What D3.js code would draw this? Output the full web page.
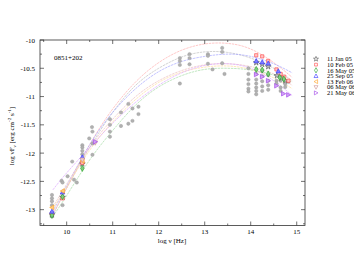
<!DOCTYPE html>
<html>
<head>
<meta charset="utf-8">
<script src="https://cdn.jsdelivr.net/npm/d3@7"></script>
<style>
  body { margin: 0; background: #fff; }
  text { font-family: "Liberation Serif", "DejaVu Serif", serif; fill: #000; }
</style>
</head>
<body>
<div id="chart"></div>
<script>
const width = 354
const height = 273
const frame = { left: 40, right: 305, top: 40, bottom: 225.5 }

const xTicks = [10, 11, 12, 13, 14, 15]
const yTicks = [-10, -10.5, -11, -11.5, -12, -12.5, -13]

// archival data (grey)
const archiveX = [9.68, 9.68, 9.68, 9.68, 9.68, 9.68, 9.89, 9.91, 9.91, 10.02, 10.12, 10.16, 10.22,
  10.34, 10.34, 10.34, 10.34, 10.49, 10.55, 10.56, 10.56, 10.56,
  10.94, 10.94, 10.94, 10.94, 11.18, 11.18, 11.34, 11.34, 11.43, 11.43, 11.56, 11.56,
  12.46, 12.46, 12.46, 12.46, 12.67, 12.67, 12.67, 13.07, 13.07, 13.07, 13.17,
  13.38, 13.38, 13.38, 13.43,
  13.95, 13.95, 13.95, 13.95, 13.95, 13.95, 14.12, 14.12, 14.12, 14.12, 14.12, 14.12,
  14.25, 14.25, 14.25, 14.25, 14.25, 14.38, 14.38, 14.38, 14.38,
  14.56, 14.56, 14.65, 14.65, 14.65, 14.75, 14.75, 14.82]
const archiveY = [-12.74, -12.8, -12.85, -12.92, -13.05, -13.12, -12.49, -12.52, -12.92, -12.41, -12.15, -12.47, -12.52,
  -11.86, -11.9, -11.96, -12.02, -11.74, -11.54, -11.62, -11.83, -12.03,
  -11.4, -11.5, -11.62, -11.71, -11.28, -11.52, -11.13, -11.48, -11.21, -11.43, -11.18, -11.31,
  -10.32, -10.37, -10.44, -10.77, -10.25, -10.32, -10.43, -10.25, -10.28, -10.42, -10.52,
  -10.14, -10.21, -10.41, -10.6,
  -10.5, -10.6, -10.7, -10.78, -10.86, -10.91, -10.6, -10.7, -10.77, -10.84, -10.9, -10.96,
  -10.55, -10.64, -10.73, -10.82, -10.9, -10.62, -10.72, -10.8, -10.88,
  -10.72, -10.77, -10.72, -10.84, -10.9, -10.78, -10.83, -10.74]

// per-epoch observations
const seriesNames = ['11 Jan 05', '10 Feb 05', '16 May 05', '25 Sep 05', '13 Feb 06', '06 May 06', '21 May 06']
const seriesX = [
  [9.68, 9.91, 10.34, 14.12, 14.25, 14.38, 14.57, 14.67, 14.75],
  [9.68, 9.91, 10.34, 14.12, 14.25, 14.38, 14.56, 14.65, 14.73, 14.82],
  [9.68, 9.91, 10.34, 14.12, 14.25, 14.38, 14.63, 14.72],
  [9.68, 9.91, 10.34, 14.12, 14.25, 14.38, 14.6],
  [9.68, 9.91, 10.34],
  [10.34, 10.62],
  [10.62, 14.12, 14.25, 14.38, 14.56, 14.71, 14.82]
]
const seriesY = [
  [-13.09, -12.78, -12.19, -10.4, -10.43, -10.47, -10.63, -10.67, -10.72],
  [-13.07, -12.8, -12.17, -10.27, -10.29, -10.37, -10.52, -10.6, -10.65, -10.72],
  [-13.1, -12.77, -12.27, -10.52, -10.53, -10.6, -10.66, -10.69],
  [-13.03, -12.69, -12.07, -10.37, -10.39, -10.41, -10.55],
  [-12.96, -12.67, -12.14],
  [-12.12, -11.82],
  [-11.8, -10.61, -10.65, -10.72, -10.81, -10.95, -10.97]
]

const curveX = [9.7, 10, 10.5, 11, 11.5, 12, 12.5, 13, 13.5, 14, 14.5, 14.9]
const curveY = [
  [-13.1, -12.62, -11.9, -11.28, -10.8, -10.5, -10.3, -10.21, -10.22, -10.32, -10.5, -10.72],
  [-13.08, -12.62, -11.85, -11.22, -10.74, -10.4, -10.18, -10.07, -10.06, -10.16, -10.4, -10.66],
  [-13.12, -12.75, -12.12, -11.6, -11.15, -10.83, -10.63, -10.52, -10.5, -10.53, -10.62, -10.74],
  [-13.03, -12.58, -11.85, -11.28, -10.86, -10.56, -10.38, -10.29, -10.25, -10.29, -10.42, -10.58],
  [-12.98, -12.6, -11.95, -11.45, -11.05, -10.75, -10.57, -10.48, -10.46, -10.52, -10.67, -10.86],
  [-12.95, -12.55, -11.9, -11.4, -11.0, -10.72, -10.54, -10.44, -10.42, -10.47, -10.6, -10.8],
  [-12.65, -12.35, -11.9, -11.47, -11.1, -10.8, -10.58, -10.45, -10.42, -10.5, -10.72, -10.98]
]

const markColor = ['#555555', '#ff4040', '#20a020', '#3030ff', '#ffa020', '#cc9090', '#a040e8']
const markFill = ['#c0c0c0', '#ffc8c8', '#80cc80', '#8080ff', '#ffd080', '#f0d0d0', '#d0a0f8']
const lineColor = ['#c0c0c0', '#ffb0b0', '#a8dca8', '#a8a8ff', '#ffdca0', '#ecc0c0', '#dca8ff']
const symbols = [d3.symbolStar, d3.symbolSquare, d3.symbolDiamond, 'up', 'left', 'down', 'right']

const x = d3.scaleLinear().domain([9.42, 15.18]).range([frame.left, frame.right])
const y = d3.scaleLinear().domain([-13.28, -10]).range([frame.bottom, frame.top])

const svg = d3.select('#chart').append('svg')
  .attr('width', width)
  .attr('height', height)

function triPath(dir, s) {
  const pts = {
    up: [[0, -s], [s, s * 0.8], [-s, s * 0.8]],
    down: [[0, s], [s, -s * 0.8], [-s, -s * 0.8]],
    left: [[-s, 0], [s * 0.8, -s], [s * 0.8, s]],
    right: [[s, 0], [-s * 0.8, -s], [-s * 0.8, s]]
  }[dir]
  return 'M' + pts.map((p) => p.join(',')).join('L') + 'Z'
}

function symPath(i, size) {
  const s = symbols[i]
  if (typeof s === 'string') return triPath(s, size * 0.55)
  return d3.symbol(s, size * size * 0.6)()
}

// curves
const line = d3.line().x((d) => x(d[0])).y((d) => y(d[1])).curve(d3.curveNatural)
curveY.forEach((cy, i) => {
  svg.append('path')
    .attr('d', line(curveX.map((cx, j) => [cx, cy[j]])))
    .attr('fill', 'none')
    .attr('stroke', lineColor[i])
    .attr('stroke-width', 0.7)
    .attr('stroke-dasharray', '2.5,0.8')
})

// archive points
svg.append('g').selectAll('circle')
  .data(archiveX.map((v, i) => [v, archiveY[i]]))
  .enter()
  .append('circle')
  .attr('cx', (d) => x(d[0]))
  .attr('cy', (d) => y(d[1]))
  .attr('r', 1.7)
  .attr('fill', '#b0b0b0')
  .attr('stroke', '#999')
  .attr('stroke-width', 0.4)

// epoch points
seriesX.forEach((sx, i) => {
  svg.append('g').selectAll('path')
    .data(sx.map((v, j) => [v, seriesY[i][j]]))
    .enter()
    .append('path')
    .attr('d', symPath(i, 4.2))
    .attr('transform', (d) => `translate(${x(d[0])},${y(d[1])})`)
    .attr('fill', markFill[i])
    .attr('stroke', markColor[i])
    .attr('stroke-width', 0.6)
})

// frame and ticks
svg.append('rect')
  .attr('x', frame.left).attr('y', frame.top)
  .attr('width', frame.right - frame.left).attr('height', frame.bottom - frame.top)
  .attr('fill', 'none').attr('stroke', '#333').attr('stroke-width', 0.8)

const ticks = svg.append('g').attr('stroke', '#333').attr('stroke-width', 0.7)
d3.range(9.5, 15.1, 0.5).forEach((t) => {
  const len = Number.isInteger(t) ? 4 : 2
  ticks.append('line').attr('x1', x(t)).attr('x2', x(t)).attr('y1', frame.bottom).attr('y2', frame.bottom - len)
  ticks.append('line').attr('x1', x(t)).attr('x2', x(t)).attr('y1', frame.top).attr('y2', frame.top + len)
})
d3.range(-13.25, -9.99, 0.25).forEach((t) => {
  const len = Math.abs(t * 2 - Math.round(t * 2)) < 1e-6 ? 4 : 2
  ticks.append('line').attr('y1', y(t)).attr('y2', y(t)).attr('x1', frame.left).attr('x2', frame.left + len)
  ticks.append('line').attr('y1', y(t)).attr('y2', y(t)).attr('x1', frame.right).attr('x2', frame.right - len)
})

svg.append('g').selectAll('text')
  .data(xTicks)
  .enter()
  .append('text')
  .attr('x', (d) => x(d))
  .attr('y', frame.bottom + 8.5)
  .attr('text-anchor', 'middle')
  .attr('font-size', 7)
  .text((d) => d)

svg.append('g').selectAll('text')
  .data(yTicks)
  .enter()
  .append('text')
  .attr('x', frame.left - 5)
  .attr('y', (d) => y(d) + 2.5)
  .attr('text-anchor', 'end')
  .attr('font-size', 7)
  .text((d) => d)

svg.append('text')
  .attr('x', 172).attr('y', 243)
  .attr('text-anchor', 'middle')
  .attr('font-size', 7)
  .text('log ν [Hz]')

const ylab = svg.append('text')
  .attr('transform', 'translate(14,136) rotate(-90)')
  .attr('text-anchor', 'middle')
  .attr('font-size', 7)
ylab.append('tspan').text('log νF')
ylab.append('tspan').attr('font-size', 5).attr('dy', 2).text('ν')
ylab.append('tspan').attr('dy', -2).text(' [erg cm')
ylab.append('tspan').attr('font-size', 5).attr('dy', -3).text('-2')
ylab.append('tspan').attr('dy', 3).text(' s')
ylab.append('tspan').attr('font-size', 5).attr('dy', -3).text('-1')
ylab.append('tspan').attr('dy', 3).text(']')

svg.append('text')
  .attr('x', 54).attr('y', 60)
  .attr('font-size', 7)
  .text('0851+202')

// legend
const legend = svg.append('g')
seriesNames.forEach((name, i) => {
  const ly = 59 + i * 5.65
  legend.append('path')
    .attr('d', symPath(i, 3.6))
    .attr('transform', `translate(316,${ly})`)
    .attr('fill', 'none')
    .attr('stroke', markColor[i])
    .attr('stroke-width', 0.6)
  legend.append('text')
    .attr('x', 327).attr('y', ly + 2.2)
    .attr('font-size', 6.5)
    .text(name)
})
</script>
</body>
</html>
